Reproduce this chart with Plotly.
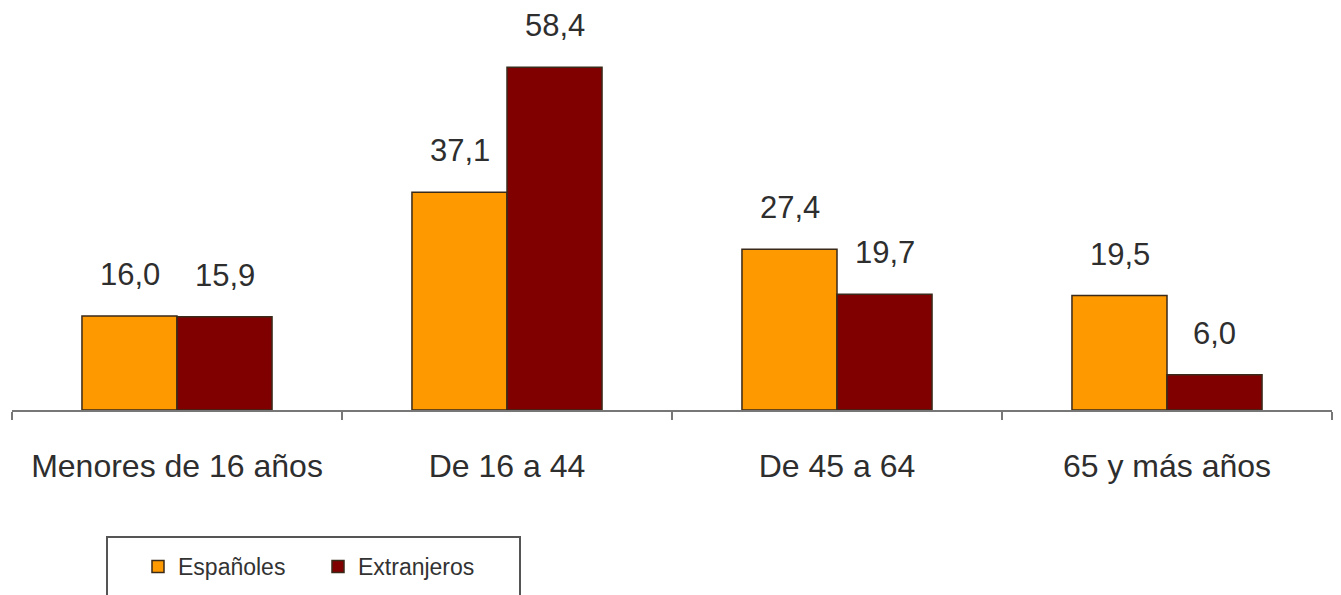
import plotly.graph_objects as go

categories = ["Menores de 16 años", "De 16 a 44", "De 45 a 64", "65 y más años"]
espanoles = [16.0, 37.1, 27.4, 19.5]
extranjeros = [15.9, 58.4, 19.7, 6.0]
series_names = ["Españoles", "Extranjeros"]
colors = ["#FF9900", "#800000"]

W, H = 1341, 595
OFF = 8  # page body margin
ml, mr, mt, mb = 12 - OFF, W - (1332 - OFF), 0, H - (410 - OFF)

fig = go.Figure()
for name, vals, col in zip(series_names, [espanoles, extranjeros], colors):
    fig.add_trace(go.Bar(
        x=categories, y=vals, name=name,
        marker=dict(color=col, line=dict(color="#3a2a1a", width=1.5)),
    ))

annotations = []
for k, vals in enumerate([espanoles, extranjeros]):
    for c, v in zip(categories, vals):
        annotations.append(dict(
            x=c, y=v, xref="x", yref="y",
            text=f"{v:.1f}".replace(".", ","),
            showarrow=False, yanchor="bottom",
            xshift=(-47.5 if k == 0 else 47.5), yshift=22,
            font=dict(family="Liberation Sans, Arial, sans-serif", size=31, color="#2e2e2e"),
        ))

pw = W - ml - mr
ph = H - mt - mb
def px_x(p):
    return (p - OFF - ml) / pw
def px_y(p):
    return (H - mb - (p - OFF)) / ph

fig.update_layout(
    width=W, height=H,
    margin=dict(l=ml, r=mr, t=mt, b=mb, autoexpand=False),
    paper_bgcolor="white", plot_bgcolor="white",
    barmode="group", bargap=0.424, bargroupgap=0,
    separators=",.",
    annotations=annotations,
    showlegend=True,
    legend=dict(
        orientation="h", x=px_x(138), y=px_y(545), xanchor="left", yanchor="top",
        font=dict(family="Liberation Sans, Arial, sans-serif", size=23, color="#333333"),
        bgcolor="rgba(0,0,0,0)", borderwidth=0, entrywidth=135, itemwidth=30,
    ),
    shapes=[dict(
        type="rect", xref="paper", yref="paper",
        x0=px_x(107), x1=px_x(520), y0=px_y(537), y1=px_y(640),
        line=dict(color="#555555", width=2), fillcolor="rgba(0,0,0,0)", layer="below",
    )],
    xaxis=dict(
        type="category", range=[-0.5, 3.5],
        showline=True, linecolor="#777777", linewidth=2,
        ticks="outside", tickson="boundaries", ticklen=8, tickcolor="#777777", tickwidth=2,
        tickfont=dict(family="Liberation Sans, Arial, sans-serif", size=32, color="#2e2e2e"),
        ticklabelstandoff=27,
        showgrid=False, zeroline=False,
    ),
    yaxis=dict(
        range=[0, (410 - OFF) / 5.87], visible=False, showgrid=False, zeroline=False,
    ),
)

fig.write_html("out.html")
